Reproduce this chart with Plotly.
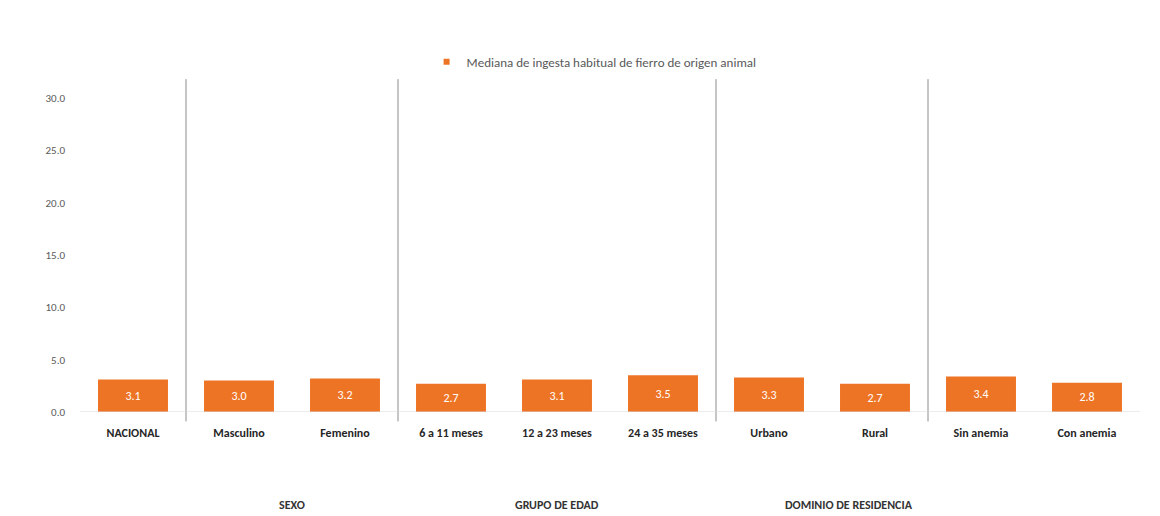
import plotly.graph_objects as go

# Mediana de ingesta habitual de fierro de origen animal, por característica
categorias = ["NACIONAL", "Masculino", "Femenino", "6 a 11 meses", "12 a 23 meses",
              "24 a 35 meses", "Urbano", "Rural", "Sin anemia", "Con anemia"]
valores = [3.1, 3.0, 3.2, 2.7, 3.1, 3.5, 3.3, 2.7, 3.4, 2.8]
grupos = ["SEXO", "GRUPO DE EDAD", "DOMINIO DE RESIDENCIA"]
grupo_centro = [1.5, 4.0, 6.75]
separadores = [0.5, 2.5, 5.5, 7.5]
ticks_y = [0, 5, 10, 15, 20, 25, 30]
serie = "Mediana de ingesta habitual de fierro de origen animal"

FONT = "Liberation Sans Narrow, Carlito, Open Sans, sans-serif"
NARANJA = "#EE7425"

fig = go.Figure()
fig.add_trace(go.Bar(
    x=list(range(len(categorias))),
    y=valores,
    name=serie,
    marker=dict(color=NARANJA, line=dict(width=0)),
    width=0.66,
    text=[f"{v:.1f}" for v in valores],
    textposition="inside",
    insidetextanchor="middle",
    textfont=dict(color="white", size=12, family=FONT),
    showlegend=False,
))
# entrada de leyenda con marcador cuadrado pequeño
fig.add_trace(go.Scatter(
    x=[None], y=[None], mode="markers", name=serie,
    marker=dict(symbol="square", size=6, color=NARANJA),
    showlegend=True,
))

shapes = []
for s in separadores:
    shapes.append(dict(type="line", xref="x", yref="paper", x0=s, x1=s,
                       y0=-0.03, y1=1.06, line=dict(color="#8c8c8c", width=1)))
# línea base del eje
shapes.append(dict(type="line", xref="paper", yref="y", x0=0, x1=1, y0=0, y1=0,
                   line=dict(color="#d9d9d9", width=1)))

annotations = []
for g, c in zip(grupos, grupo_centro):
    annotations.append(dict(x=c, y=0, xref="x", yref="y", yshift=-93, text=f"<b>{g}</b>",
                            showarrow=False, font=dict(size=12, color="#333333", family=FONT)))

fig.update_layout(
    width=1160, height=516,
    margin=dict(l=80, r=20, t=98, b=104),
    paper_bgcolor="white", plot_bgcolor="white",
    font=dict(family=FONT, color="#404040"),
    bargap=0.34,
    shapes=shapes,
    annotations=annotations,
    legend=dict(orientation="h", x=0.485, xanchor="center", y=1.115, yanchor="middle",
                font=dict(size=13, color="#595959", family=FONT),
                itemwidth=30, traceorder="normal"),
    xaxis=dict(
        range=[-0.5, 9.5],
        tickmode="array",
        tickvals=list(range(len(categorias))),
        ticktext=[f"<b>{c}</b>" for c in categorias],
        tickfont=dict(size=12, color="#262626", family=FONT),
        showgrid=False, zeroline=False, showline=False, ticks="",
        ticklabelstandoff=12,
    ),
    yaxis=dict(
        range=[0, 30],
        tickmode="array",
        tickvals=ticks_y,
        ticktext=[f"{t:.1f}" for t in ticks_y],
        tickfont=dict(size=11, color="#595959", family=FONT),
        showgrid=False, zeroline=False, showline=False, ticks="",
        ticklabelstandoff=14,
    ),
)

fig.write_html("out.html")
